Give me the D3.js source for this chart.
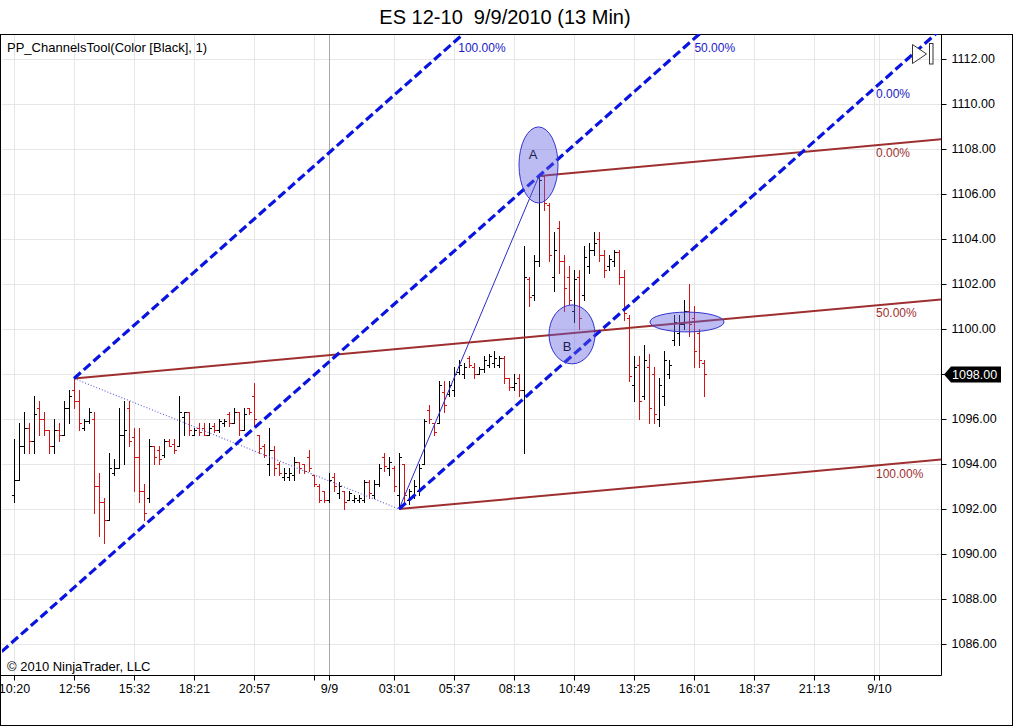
<!DOCTYPE html>
<html>
<head>
<meta charset="utf-8">
<script src="https://cdn.jsdelivr.net/npm/d3@7"></script>
<style>
  body { margin: 0; background: #fff; }
  svg { display: block; font-family: "Liberation Sans", Arial, sans-serif; }
</style>
</head>
<body>
<svg id="chart" width="1016" height="727"></svg>
<script>
// ES 12-10, 13 minute bars (index = bar number from the 10:20 bar)
const opens = [1092.6,1093.3,1094.8,1095.6,1095.0,1096.5,1096.0,1095.5,1094.8,1095.5,
  1095.3,1096.5,1097.3,1096.8,1095.6,1095.9,1096.0,1093.0,1092.3,1091.5,
  1093.6,1093.8,1095.3,1096.5,1095.2,1094.3,1092.8,1092.5,1094.8,1094.6,
  1094.4,1095.0,1094.9,1094.8,1096.1,1096.3,1095.3,1095.6,1095.6,1095.3,
  1095.7,1095.5,1095.8,1096.2,1095.8,1096.3,1095.5,1096.5,1097.0,1095.3,
  1094.8,1094.0,1094.6,1094.0,1093.4,1093.4,1093.5,1094.1,1094.0,1094.3,
  1093.5,1093.0,1092.8,1092.4,1093.4,1092.7,1092.8,1092.4,1092.4,1092.4,
  1092.4,1093.2,1092.6,1093.1,1094.3,1093.8,1093.8,1092.6,1094.0,1092.4,
  1092.6,1092.8,1094.0,1096.4,1095.8,1095.8,1097.2,1097.1,1097.3,1098.1,
  1098.0,1098.7,1098.3,1098.0,1098.2,1098.4,1098.5,1098.4,1098.7,1097.8,
  1097.4,1097.8,1097.3,1102.2,1101.5,1103.0,1106.8,1105.5,1102.3,1104.5,
  1103.0,1102.3,1100.8,1102.3,1101.5,1102.8,1103.5,1104.0,1103.3,1102.8,
  1103.0,1103.4,1102.3,1100.5,1097.5,1098.4,1097.0,1098.3,1098.0,1096.0,
  1097.0,1098.0,1099.5,1099.8,1100.2,1100.8,1100.5,1099.8,1098.5];

const highs = [1095.1,1095.8,1096.3,1095.8,1097.0,1096.8,1096.3,1095.5,1096.0,1095.8,
  1096.8,1097.3,1097.8,1097.3,1096.0,1096.5,1096.3,1093.6,1092.5,1094.5,
  1094.2,1096.5,1096.8,1096.8,1095.6,1095.6,1093.1,1095.1,1094.8,1094.8,
  1095.1,1095.1,1095.1,1097.0,1096.3,1096.3,1095.6,1095.8,1095.8,1095.8,
  1095.8,1096.0,1096.0,1096.3,1096.5,1096.3,1096.5,1096.5,1097.6,1095.3,
  1094.9,1095.6,1094.8,1094.1,1093.8,1093.8,1094.3,1094.1,1094.0,1094.6,
  1093.5,1093.1,1092.8,1093.6,1093.6,1093.2,1092.8,1092.8,1092.6,1092.6,
  1093.3,1093.3,1093.3,1094.0,1094.5,1094.3,1093.9,1094.5,1094.0,1092.9,
  1093.3,1094.0,1096.0,1096.6,1095.8,1097.7,1097.7,1097.7,1098.3,1098.6,
  1098.5,1098.8,1098.5,1098.3,1098.8,1098.9,1099.0,1098.8,1098.8,1097.8,
  1098.0,1098.0,1103.7,1102.3,1103.3,1106.8,1106.8,1105.6,1104.3,1104.8,
  1103.3,1102.8,1102.6,1102.6,1103.7,1103.8,1104.3,1104.3,1103.5,1103.3,
  1103.5,1103.5,1102.6,1100.6,1098.8,1098.8,1099.3,1098.9,1098.3,1097.8,
  1099.0,1098.6,1100.6,1100.6,1101.3,1102.0,1101.0,1100.0,1098.6];

const lows = [1092.3,1093.3,1094.5,1094.5,1094.5,1095.3,1095.3,1094.5,1094.5,1095.0,
  1095.3,1095.8,1096.5,1095.5,1095.5,1095.8,1091.8,1090.8,1090.5,1091.5,
  1093.5,1093.8,1094.0,1094.8,1092.8,1092.3,1091.5,1092.3,1094.0,1094.0,
  1094.3,1094.8,1094.5,1094.8,1095.3,1095.3,1095.3,1095.3,1095.3,1095.3,
  1095.4,1095.4,1095.7,1095.7,1095.8,1095.3,1095.5,1096.2,1095.7,1094.5,
  1094.3,1093.5,1093.5,1093.5,1093.3,1093.3,1093.3,1093.6,1093.6,1093.7,
  1093.0,1092.3,1092.3,1092.3,1092.8,1092.5,1092.0,1092.4,1092.3,1092.3,
  1092.3,1092.5,1092.5,1093.0,1093.7,1093.5,1092.8,1092.0,1092.3,1092.2,
  1092.5,1092.6,1094.0,1095.8,1095.3,1095.8,1096.3,1097.0,1097.0,1098.0,
  1097.8,1098.3,1097.8,1098.0,1098.1,1098.3,1098.3,1098.3,1097.6,1097.3,
  1097.3,1097.0,1094.5,1101.0,1101.3,1102.8,1105.3,1103.0,1101.7,1102.5,
  1100.8,1101.1,1100.3,1100.0,1101.3,1102.5,1103.3,1103.0,1102.3,1102.6,
  1102.8,1102.0,1100.4,1097.7,1096.8,1096.0,1096.9,1095.8,1095.8,1095.7,
  1096.6,1097.8,1099.3,1099.3,1100.0,1099.7,1098.3,1098.3,1097.0];

const closes = [1093.3,1094.8,1095.6,1095.0,1096.2,1096.0,1095.5,1094.8,1095.5,1095.3,
  1096.5,1097.0,1096.8,1095.8,1095.9,1096.3,1093.0,1092.3,1091.5,1093.8,
  1093.8,1095.3,1095.5,1095.0,1094.3,1092.8,1091.8,1094.8,1094.3,1094.2,
  1095.0,1094.8,1094.6,1096.3,1096.3,1095.5,1095.5,1095.4,1095.3,1095.6,
  1095.5,1095.9,1095.9,1095.8,1096.3,1095.5,1096.2,1096.3,1096.0,1094.7,
  1094.4,1094.6,1093.8,1093.6,1093.6,1093.6,1094.1,1093.8,1093.7,1093.8,
  1093.1,1092.4,1092.4,1093.3,1093.0,1093.0,1092.3,1092.7,1092.5,1092.5,
  1093.2,1092.7,1093.1,1093.8,1093.9,1094.1,1093.0,1094.3,1092.6,1092.8,
  1093.0,1093.8,1095.9,1096.0,1095.4,1097.5,1096.6,1097.5,1098.0,1098.4,
  1098.3,1098.4,1098.0,1098.2,1098.6,1098.8,1098.7,1098.7,1097.8,1097.4,
  1097.6,1097.3,1102.3,1101.4,1103.0,1106.6,1105.6,1103.3,1103.5,1103.0,
  1101.8,1101.3,1102.2,1100.5,1103.2,1103.5,1103.8,1103.3,1102.6,1103.1,
  1103.4,1102.3,1100.7,1097.9,1098.3,1096.8,1098.6,1096.5,1096.2,1097.5,
  1098.6,1098.4,1100.3,1100.2,1100.8,1100.2,1099.0,1098.6,1098.0];

// time axis
const tickIdx  = [0, 12, 24, 36, 48, 60, 63, 76, 88, 100, 112, 124, 136, 148, 160, 172, 173];
const tickText = ["10:20","12:56","15:32","18:21","20:57","","9/9","03:01","05:37","08:13",
                  "10:49","13:25","16:01","18:37","21:13","","9/10"];
const dayBreaks = [63];
const priceTicks = d3.range(1086, 1113, 2);

// drawing tool anchors (bar index, price)
const pivot1 = {i: 12,  p: 1097.8};
const pivot2 = {i: 77,  p: 1092.0};
const pivotA = {i: 105, p: 1106.8};

// ellipse annotations (centre bar/price, radius in bars/points, label spot)
const ellipses = [
  {i: 104.9, p: 1107.29, ri: 3.9, rp: 1.69, label: "A", li: 103.8, lp: 1107.56},
  {i: 111.6, p: 1099.76, ri: 4.6, rp: 1.31, label: "B", li: 110.6, lp: 1099.02},
  {i: 134.6, p: 1100.31, ri: 7.4, rp: 0.44, label: "",  li: 0,     lp: 0}
];

const svg = d3.select("#chart");
const plot = {left: 2, right: 941, top: 34, bottom: 675};

const x = d3.scaleLinear().domain([-2.4, 185.4]).range([plot.left, plot.right]);
const y = d3.scaleLinear().domain([1084.622, 1113.111]).range([plot.bottom, plot.top]);

svg.append("defs").append("clipPath").attr("id", "plotClip")
  .append("rect")
  .attr("x", plot.left).attr("y", plot.top)
  .attr("width", plot.right - plot.left).attr("height", plot.bottom - plot.top);

// title
svg.append("text")
  .attr("x", 505).attr("y", 24)
  .attr("text-anchor", "middle")
  .style("font-size", "20px")
  .style("white-space", "pre")
  .attr("xml:space", "preserve")
  .text("ES 12-10  9/9/2010 (13 Min)");

// grid
const grid = svg.append("g");
grid.selectAll(".hgrid").data(priceTicks).enter().append("line")
  .attr("x1", plot.left).attr("x2", plot.right)
  .attr("y1", d => Math.round(y(d)) + 0.5).attr("y2", d => Math.round(y(d)) + 0.5)
  .attr("stroke", "#e6e6e6");
grid.selectAll(".vgrid").data(tickIdx).enter().append("line")
  .attr("x1", d => Math.round(x(d)) + 0.5).attr("x2", d => Math.round(x(d)) + 0.5)
  .attr("y1", plot.top).attr("y2", plot.bottom)
  .attr("stroke", d => dayBreaks.includes(d) ? "#a8a8a8" : "#e6e6e6");

// axes
const xAxis = svg.append("g")
  .attr("transform", `translate(0,${plot.bottom + 0.5})`)
  .call(d3.axisBottom(x).tickValues(tickIdx).tickFormat((d, i) => tickText[i])
    .tickSize(5).tickSizeOuter(0).tickPadding(4));
xAxis.select(".domain").remove();
xAxis.selectAll("text").style("font-size", "12.5px").attr("fill", "#000");

const yAxis = svg.append("g")
  .attr("transform", `translate(${plot.right + 0.5},0)`)
  .call(d3.axisRight(y).tickValues(priceTicks).tickFormat(d3.format(".2f"))
    .tickSize(5).tickSizeOuter(0).tickPadding(5));
yAxis.select(".domain").remove();
yAxis.selectAll("text").style("font-size", "12.5px").attr("fill", "#000");

// frame
svg.append("rect")
  .attr("x", 0.5).attr("y", plot.top + 0.5).attr("width", 1012).attr("height", 691)
  .attr("fill", "none").attr("stroke", "#000");
svg.append("path")
  .attr("d", `M0,${plot.bottom + 0.5}H${plot.right + 0.5}V${plot.top}`)
  .attr("fill", "none").attr("stroke", "#000");

// OHLC bars
const bars = d3.range(opens.length).map(i => ({i, o: opens[i], h: highs[i], l: lows[i], c: closes[i]}));
const barColor = d => d.c >= d.o ? "#000" : "#d41414";
const px = d => Math.round(x(d.i)) + 0.5;
const py = v => Math.round(y(v)) + 0.5;

const bg = svg.append("g").attr("clip-path", "url(#plotClip)");
const bar = bg.selectAll(".bar").data(bars).enter().append("g").attr("stroke", barColor);
bar.append("line")
  .attr("x1", px).attr("x2", px)
  .attr("y1", d => py(d.h) - 0.5).attr("y2", d => py(d.l) + 0.5);
bar.append("line")
  .attr("x1", d => px(d) - 2.5).attr("x2", px)
  .attr("y1", d => py(d.o)).attr("y2", d => py(d.o));
bar.append("line")
  .attr("x1", px).attr("x2", d => px(d) + 2.5)
  .attr("y1", d => py(d.c)).attr("y2", d => py(d.c));

// channel tool
const tools = svg.append("g").attr("clip-path", "url(#plotClip)");
const lineFn = d3.line().x(d => x(d[0])).y(d => y(d[1]));
const ray = (a, slope, i0, i1) => [[i0, a.p + slope * (i0 - a.i)], [i1, a.p + slope * (i1 - a.i)]];

const brownSlope = (pivot1.p - (pivotA.p + pivot2.p) / 2) / (pivot1.i - (pivotA.i + pivot2.i) / 2);
const blueSlope  = (pivotA.p - (pivot1.p + pivot2.p) / 2) / (pivotA.i - (pivot1.i + pivot2.i) / 2);
const iRight = x.domain()[1];

tools.append("path").attr("d", lineFn([[pivot1.i, pivot1.p], [pivot2.i, pivot2.p]]))
  .attr("fill", "none").attr("stroke", "#5a5ad6").attr("stroke-width", 1.1)
  .attr("stroke-dasharray", "1,2");
tools.append("path").attr("d", lineFn([[pivot2.i, pivot2.p], [pivotA.i, pivotA.p]]))
  .attr("fill", "none").attr("stroke", "#2b2bc8").attr("stroke-width", 1);

const brownLines = [
  {a: pivotA, label: "0.00%"},
  {a: pivot1, label: "50.00%"},
  {a: pivot2, label: "100.00%"}
];
brownLines.forEach(b => {
  tools.append("path").attr("d", lineFn(ray(b.a, brownSlope, b.a.i, iRight)))
    .attr("fill", "none").attr("stroke", "#9e2f2f").attr("stroke-width", 2);
});

const blueLines = [
  {a: pivot1, from: pivot1.i, label: "100.00%"},
  {a: pivotA, from: -20,      label: "50.00%"},
  {a: pivot2, from: pivot2.i, label: "0.00%"}
];
blueLines.forEach(b => {
  tools.append("path").attr("d", lineFn(ray(b.a, blueSlope, b.from, 220)))
    .attr("fill", "none").attr("stroke", "#0a14e0").attr("stroke-width", 3.2)
    .attr("stroke-dasharray", "9,4");
});

// level labels
const labelIdx = x.invert(876);
const labels = svg.append("g").style("font-size", "12px");
brownLines.forEach(b => {
  labels.append("text")
    .attr("x", 876).attr("y", y(b.a.p + brownSlope * (labelIdx - b.a.i)) + 12)
    .attr("fill", "#9e2f2f").text(b.label);
});
blueLines.forEach(b => {
  const topP = y.domain()[1];
  const exitI = b.a.i + (topP - b.a.p) / blueSlope;
  if (x(exitI) < 876) {
    labels.append("text").attr("x", x(exitI) - 5).attr("y", 52)
      .attr("fill", "#1a1ac8").text(b.label);
  } else {
    labels.append("text").attr("x", 876)
      .attr("y", y(b.a.p + blueSlope * (labelIdx - b.a.i)) + 11)
      .attr("fill", "#1a1ac8").text(b.label);
  }
});

// ellipses
const eg = svg.append("g");
ellipses.forEach(e => {
  eg.append("ellipse")
    .attr("cx", x(e.i)).attr("cy", y(e.p))
    .attr("rx", x(e.i + e.ri) - x(e.i)).attr("ry", y(e.p - e.rp) - y(e.p))
    .attr("fill", "rgba(95,95,225,0.42)").attr("stroke", "#3434d0").attr("stroke-width", 1);
  if (e.label) {
    eg.append("text").attr("x", x(e.li)).attr("y", y(e.lp))
      .attr("text-anchor", "middle")
      .style("font-size", "13px").attr("fill", "#1c1c50").text(e.label);
  }
});

// text overlays
svg.append("text").attr("x", 7).attr("y", 52).style("font-size", "13px")
  .text("PP_ChannelsTool(Color [Black], 1)");
svg.append("text").attr("x", 7).attr("y", 671).style("font-size", "13px")
  .text("\u00a9 2010 NinjaTrader, LLC");

// last price marker
const lastClose = closes[closes.length - 1];
const ly = Math.round(y(lastClose)) + 0.5;
svg.append("path")
  .attr("d", `M${plot.right + 3},${ly}L${plot.right + 10},${ly - 8}H1001V${ly + 8}H${plot.right + 10}Z`)
  .attr("fill", "#000");
svg.append("text").attr("x", 952).attr("y", ly + 4.5)
  .style("font-size", "12.5px").attr("fill", "#fff").text(d3.format(".2f")(lastClose));

// chart scroll icon
svg.append("path").attr("d", "M912.5,44.5L926.5,54L912.5,63.5Z")
  .attr("fill", "#fff").attr("stroke", "#333");
svg.append("rect").attr("x", 929.5).attr("y", 43.5).attr("width", 3.5).attr("height", 20.5)
  .attr("fill", "#fff").attr("stroke", "#333");
</script>
</body>
</html>
